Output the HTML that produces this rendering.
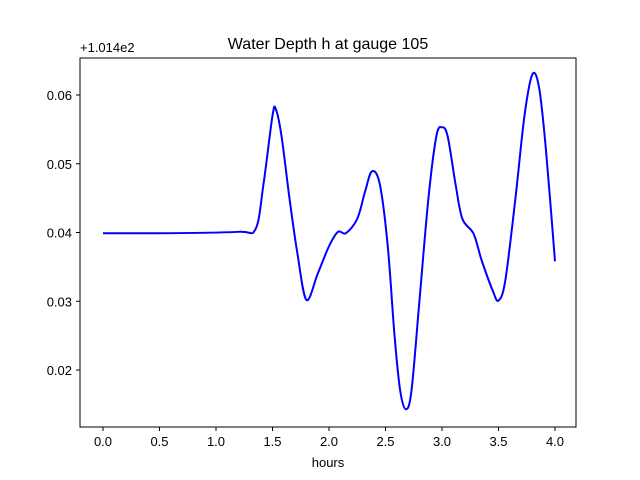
<!DOCTYPE html>
<html><head><meta charset="utf-8"><style>
body{margin:0;background:#fff}
svg{display:block;font-family:"Liberation Sans",sans-serif}
</style></head><body>
<svg id="chart" width="640" height="480">
<rect width="640" height="480" fill="#fff"/>
<text x="328" y="49" text-anchor="middle" font-size="16">Water Depth h at gauge 105</text>
<text x="80" y="52" font-size="13">+1.014e2</text>
<text x="328" y="467" text-anchor="middle" font-size="13">hours</text>
<g id="ticks"></g>
<path id="line" fill="none" stroke="#0000ff" stroke-width="2"/>
<rect x="80" y="58" width="496" height="369" fill="none" stroke="#000" stroke-width="1"/>
</svg>
<script>
const times=[0,0.6,1.2,1.35,1.42,1.5,1.53,1.58,1.65,1.72,1.8,1.9,2.0,2.08,2.15,2.25,2.32,2.38,2.45,2.52,2.58,2.63,2.68,2.73,2.8,2.88,2.95,3.0,3.05,3.12,3.18,3.28,3.35,3.45,3.5,3.56,3.65,3.73,3.8,3.86,3.92,4.0];
const depths=[0.0399,0.0399,0.0401,0.0405,0.047,0.057,0.0579,0.054,0.045,0.037,0.0302,0.034,0.038,0.0401,0.0399,0.042,0.046,0.0489,0.047,0.038,0.025,0.017,0.0143,0.017,0.03,0.045,0.054,0.0553,0.054,0.047,0.042,0.0398,0.036,0.0315,0.0301,0.033,0.045,0.057,0.063,0.061,0.052,0.0358];
const xTicks=[0,0.5,1,1.5,2,2.5,3,3.5,4];
const xTickLabels=["0.0","0.5","1.0","1.5","2.0","2.5","3.0","3.5","4.0"];
const yTicks=[0.02,0.03,0.04,0.05,0.06];
const yTickLabels=["0.02","0.03","0.04","0.05","0.06"];
const X=t=>103+t*113;
const Y=v=>370-(v-0.02)*6875;
const ns="http://www.w3.org/2000/svg";
const g=document.getElementById('ticks');
xTicks.forEach((t,i)=>{
 const l=document.createElementNS(ns,'line');
 
 
 l.setAttribute('x1',X(t));l.setAttribute('x2',X(t));l.setAttribute('y1',427);l.setAttribute('y2',431);l.setAttribute('stroke','#000');
 g.appendChild(l);
 const tx=document.createElementNS(ns,'text');
 
 
 tx.setAttribute('x',X(t));tx.setAttribute('y',446);tx.setAttribute('text-anchor','middle');tx.setAttribute('font-size','13');
 tx.textContent=xTickLabels[i];g.appendChild(tx);
});
yTicks.forEach((v,i)=>{
 const l=document.createElementNS(ns,'line');
 
 
 l.setAttribute('x1',76);l.setAttribute('x2',80);l.setAttribute('y1',Y(v));l.setAttribute('y2',Y(v));l.setAttribute('stroke','#000');
 g.appendChild(l);
 const tx=document.createElementNS(ns,'text');
 
 
 tx.setAttribute('x',72);tx.setAttribute('y',Y(v)+5);tx.setAttribute('text-anchor','end');tx.setAttribute('font-size','13');
 tx.textContent=yTickLabels[i];g.appendChild(tx);
});
// Catmull-Rom smoothing
const P=times.map((t,i)=>[X(t),Y(depths[i])]);
let d='M'+P[0][0]+','+P[0][1];
for(let i=0;i<P.length-1;i++){
 const p0=P[Math.max(0,i-1)],p1=P[i],p2=P[i+1],p3=P[Math.min(P.length-1,i+2)];
 const c1=[p1[0]+(p2[0]-p0[0])/6,p1[1]+(p2[1]-p0[1])/6];
 const c2=[p2[0]-(p3[0]-p1[0])/6,p2[1]-(p3[1]-p1[1])/6];
 d+=`C${c1[0]},${c1[1]} ${c2[0]},${c2[1]} ${p2[0]},${p2[1]}`;
}
document.getElementById('line').setAttribute('d',d);
</script>
</body></html>
